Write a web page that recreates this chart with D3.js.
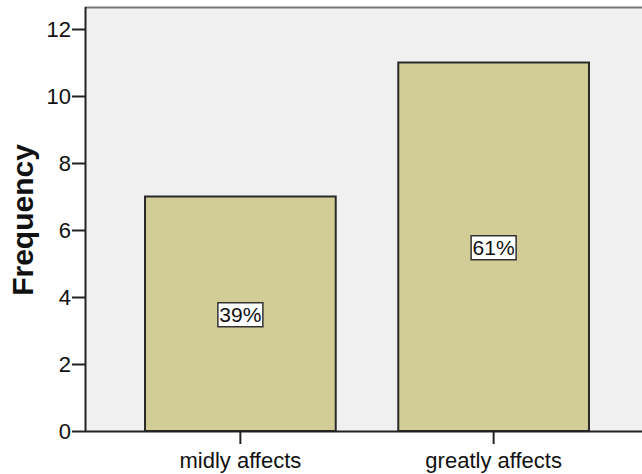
<!DOCTYPE html>
<html>
<head>
<meta charset="utf-8">
<script src="https://cdn.jsdelivr.net/npm/d3@7"></script>
<style>
  body { margin: 0; background: #fff; }
  text { font-family: "Liberation Sans", Arial, sans-serif; }
</style>
</head>
<body>
<div id="main"></div>
<script>
// --- data
const categories = ['midly affects', 'greatly affects'];
const frequencies = [7, 11];
const percentLabels = ['39%', '61%'];
const yTicks = [0, 2, 4, 6, 8, 10, 12];

const svgWidth = 642;
const svgHeight = 474;
const margin = { top: 7, right: 0, bottom: 43, left: 85 };
const chartHeight = svgHeight - margin.top - margin.bottom;

const svg = d3.select('#main')
  .append('svg')
  .attr('width', svgWidth)
  .attr('height', svgHeight);

// plot background
svg.append('rect')
  .attr('x', margin.left)
  .attr('y', margin.top)
  .attr('width', svgWidth - margin.left)
  .attr('height', chartHeight)
  .attr('fill', '#f0f0f0');

svg.append('line')
  .attr('x1', margin.left).attr('x2', svgWidth)
  .attr('y1', margin.top + 0.5).attr('y2', margin.top + 0.5)
  .attr('stroke', '#777').attr('stroke-width', 2);

const xScale = d3.scaleBand()
  .domain(categories)
  .range([margin.left, 649])
  .paddingInner(0.247)
  .paddingOuter(0.237);

const yScale = d3.scaleLinear()
  .domain([0, 12])
  .range([margin.top + chartHeight, 29]);

// bars
svg.selectAll('rect.bar')
  .data(frequencies)
  .enter()
  .append('rect')
  .attr('class', 'bar')
  .attr('x', (d, i) => xScale(categories[i]))
  .attr('y', d => yScale(d))
  .attr('width', xScale.bandwidth())
  .attr('height', d => yScale(0) - yScale(d))
  .attr('fill', '#d2cd96')
  .attr('stroke', '#2a2a2a')
  .attr('stroke-width', 2);

// percentage labels in boxes
const labels = svg.selectAll('g.lbl')
  .data(frequencies)
  .enter()
  .append('g')
  .attr('class', 'lbl')
  .attr('transform', (d, i) => `translate(${xScale(categories[i]) + xScale.bandwidth() / 2}, ${(yScale(d) + yScale(0)) / 2 + 1})`);

labels.append('rect')
  .attr('x', -22.5).attr('y', -12)
  .attr('width', 45).attr('height', 24)
  .attr('fill', '#fff')
  .attr('stroke', '#333')
  .attr('stroke-width', 1.5);

labels.append('text')
  .attr('text-anchor', 'middle')
  .attr('dy', '0.36em')
  .attr('font-size', 21)
  .attr('fill', '#111')
  .text((d, i) => percentLabels[i]);

// axes
const yAxis = svg.append('g')
  .attr('transform', `translate(${margin.left}, 0)`)
  .call(d3.axisLeft(yScale).tickValues(yTicks).tickSize(13).tickPadding(1).tickSizeOuter(0));

const xAxis = svg.append('g')
  .attr('transform', `translate(0, ${yScale(0)})`)
  .call(d3.axisBottom(xScale).tickSize(13).tickPadding(8).tickSizeOuter(0));

xAxis.select('.domain').attr('d', `M${margin.left},0.5H${svgWidth}`);
yAxis.select('.domain').attr('d', `M0.5,${margin.top}V${yScale(0)}`);

[xAxis, yAxis].forEach(ax => {
  ax.selectAll('.domain').attr('stroke', '#222').attr('stroke-width', 2);
  ax.selectAll('.tick line').attr('stroke', '#222').attr('stroke-width', 2);
  ax.selectAll('.tick text')
    .attr('font-size', 22)
    .attr('font-family', '"Liberation Sans", Arial, sans-serif')
    .attr('fill', '#111');
});

svg.append('text')
  .attr('transform', `translate(33, 220) rotate(-90)`)
  .attr('text-anchor', 'middle')
  .attr('font-size', 30)
  .attr('font-weight', 'bold')
  .attr('fill', '#111')
  .text('Frequency');
</script>
</body>
</html>
